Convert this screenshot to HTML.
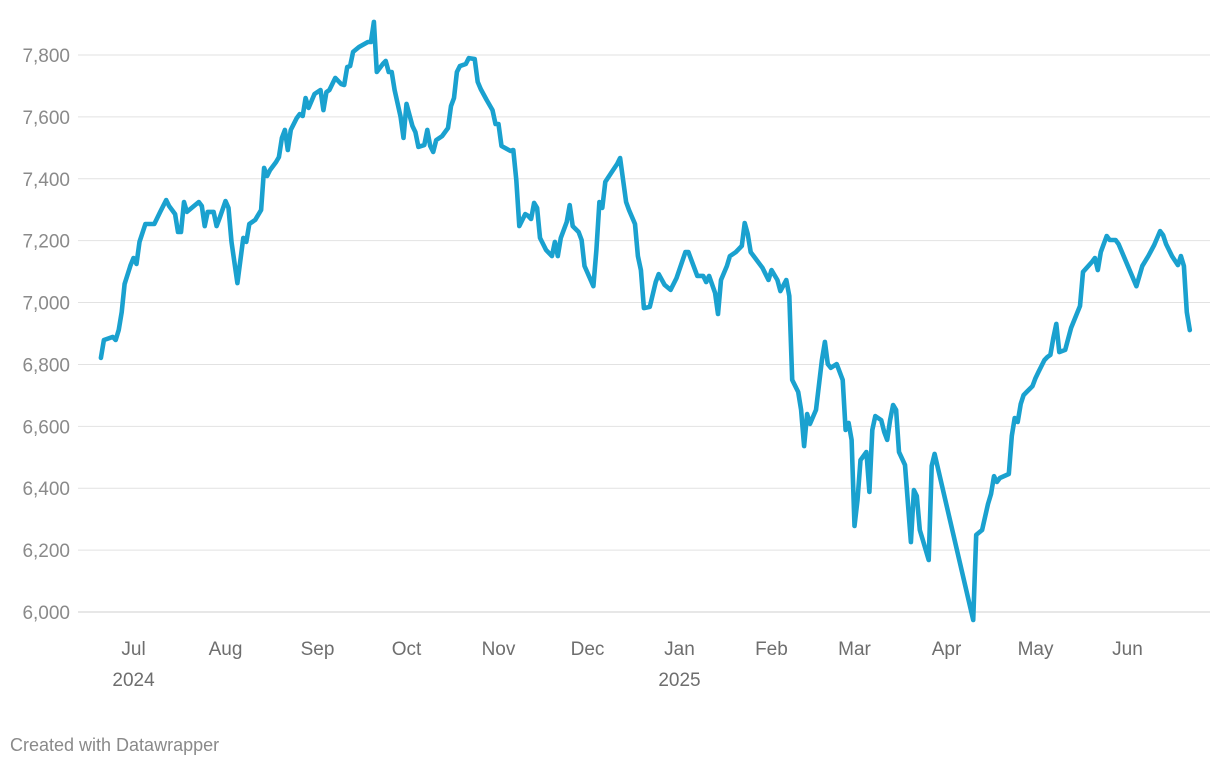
<!DOCTYPE html>
<html><head><meta charset="utf-8"><style>
html,body{margin:0;padding:0;background:#fff;width:1220px;height:768px;overflow:hidden;font-family:"Liberation Sans",sans-serif;}
svg text{font-family:"Liberation Sans",sans-serif;}
</style></head><body>
<svg id="chart" width="1220" height="768" xmlns="http://www.w3.org/2000/svg">
<g id="grid"></g>
<g id="yaxis"></g>
<g id="xaxis"></g>
<path id="line" fill="none" stroke="#1aa1cf" stroke-width="4.6" stroke-linejoin="round" stroke-linecap="round"></path>
<text x="10" y="751" font-size="18" fill="#8a8a8a">Created with Datawrapper</text>
</svg>
<script>
// days since 2024-07-01
const days=[3,4,7,8,9,10,11,13,14,15,16,18,21,23,25,26,28,29,30,31,32,34,36,37,38,39,41,42,43,45,46,47,49,51,52,53,55,57,58,59,60,62,63,64,65,66,67,69,70,71,72,73,75,77,78,79,80,82,84,85,86,87,88,90,93,94,95,96,98,99,100,101,102,104,105,106,108,109,110,112,113,114,115,116,118,120,121,122,123,124,126,127,129,130,131,133,135,136,137,138,141,142,143,144,146,147,148,149,150,151,153,155,156,157,158,160,161,162,164,165,166,169,170,171,172,173,175,177,178,180,181,183,184,185,186,188,190,191,193,195,197,200,201,204,206,207,208,210,211,212,214,215,217,219,220,221,222,226,228,229,231,232,234,235,236,238,239,240,241,242,244,246,247,248,249,251,253,254,255,256,257,258,259,261,262,263,264,266,267,268,269,270,271,272,274,276,277,278,279,280,282,283,284,297,298,300,302,303,304,305,306,309,310,311,312,313,314,315,317,318,319,321,322,323,324,325,326,328,330,333,334,337,338,339,340,342,343,345,346,352,354,356,358,360,361,362,364,366,367,368,369,370];
const values=[6821,6879,6889,6879,6911,6969,7060,7121,7144,7125,7196,7254,7254,7293,7331,7312,7286,7228,7228,7325,7293,7309,7325,7312,7247,7293,7293,7247,7273,7328,7306,7196,7063,7209,7196,7254,7267,7299,7435,7409,7428,7454,7470,7532,7558,7493,7558,7596,7609,7603,7661,7629,7674,7687,7622,7680,7687,7726,7706,7703,7761,7764,7810,7826,7842,7842,7907,7745,7771,7781,7745,7745,7687,7600,7532,7642,7571,7551,7503,7509,7558,7506,7487,7525,7538,7564,7635,7661,7745,7764,7771,7790,7787,7713,7690,7655,7622,7577,7577,7506,7490,7493,7396,7247,7286,7280,7270,7322,7306,7209,7170,7150,7196,7150,7209,7260,7315,7247,7228,7202,7118,7053,7170,7325,7306,7390,7419,7448,7467,7325,7299,7254,7150,7105,6982,6986,7066,7092,7057,7041,7079,7163,7163,7086,7086,7066,7086,7031,6963,7073,7118,7150,7163,7183,7257,7222,7163,7112,7073,7105,7073,7037,7073,7021,6750,6711,6653,6536,6640,6608,6653,6814,6873,6801,6789,6801,6750,6588,6611,6556,6278,6362,6491,6517,6388,6588,6633,6620,6582,6556,6620,6669,6653,6517,6475,6226,6394,6375,6265,6233,6168,6472,6511,5974,6249,6265,6349,6381,6439,6420,6433,6446,6569,6627,6614,6672,6701,6711,6730,6756,6776,6814,6824,6831,6885,6931,6840,6847,6918,6989,7099,7131,7144,7105,7163,7215,7202,7202,7189,7053,7118,7150,7186,7231,7218,7189,7150,7121,7150,7118,6969,6911];
const yTicks=[6000,6200,6400,6600,6800,7000,7200,7400,7600,7800];
const monthLabels=["Jul","Aug","Sep","Oct","Nov","Dec","Jan","Feb","Mar","Apr","May","Jun"];
const monthDays=[14,45,76,106,137,167,198,229,257,288,318,349];
const yearLabels=["2024","","","","","","2025","","","","",""];

const X=d=>92+d*(1172-92)/364;
const Y=v=>612-(v-6000)*(612-55)/1800;
const NS="http://www.w3.org/2000/svg";
const grid=document.getElementById('grid'),ya=document.getElementById('yaxis'),xa=document.getElementById('xaxis');
yTicks.forEach(t=>{
  const l=document.createElementNS(NS,'line');
  
  
  l.setAttribute('x1',78);l.setAttribute('x2',1210);l.setAttribute('y1',Y(t));l.setAttribute('y2',Y(t));
  l.setAttribute('stroke',t===6000?'#cfcfcf':'#e2e2e2');l.setAttribute('stroke-width',1);
  grid.appendChild(l);
  const tx=document.createElementNS(NS,'text');
  
  
  tx.setAttribute('x',70);tx.setAttribute('y',Y(t)+7);tx.setAttribute('text-anchor','end');
  tx.setAttribute('font-size','19');tx.setAttribute('fill','#8a8a8a');
  tx.textContent=t.toLocaleString('en-US');
  ya.appendChild(tx);
});
monthLabels.forEach((m,i)=>{
  const tx=document.createElementNS(NS,'text');
  
  
  tx.setAttribute('x',X(monthDays[i]));tx.setAttribute('y',655);tx.setAttribute('text-anchor','middle');
  tx.setAttribute('font-size','19');tx.setAttribute('fill','#6e6e6e');
  tx.textContent=m;xa.appendChild(tx);
  if(yearLabels[i]){
    const yt=document.createElementNS(NS,'text');
    
    
    yt.setAttribute('x',X(monthDays[i]));yt.setAttribute('y',686);yt.setAttribute('text-anchor','middle');
    yt.setAttribute('font-size','19');yt.setAttribute('fill','#6e6e6e');
    yt.textContent=yearLabels[i];xa.appendChild(yt);
  }
});
document.getElementById('line').setAttribute('d',days.map((d,i)=>(i?'L':'M')+X(d).toFixed(1)+','+Y(values[i]).toFixed(1)).join(''));
</script>
</body></html>
